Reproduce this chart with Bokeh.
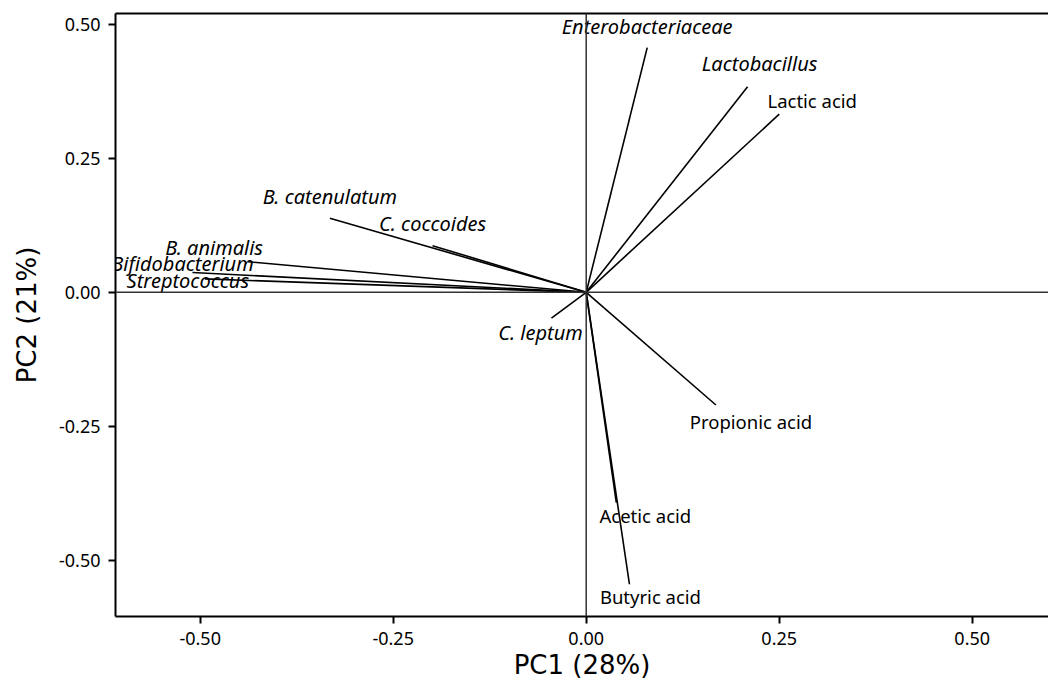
from bokeh.plotting import figure
from bokeh.models import ColumnDataSource, Span, LinearAxis, FixedTicker, NumeralTickFormatter, Range1d
from bokeh.core.properties import value
from bokeh.embed import file_html
from bokeh.resources import INLINE

# ---- data ----
variables = ["Enterobacteriaceae", "Lactobacillus", "Lactic acid", "B. catenulatum",
             "C. coccoides", "B. animalis", "Bifidobacterium", "Streptococcus",
             "C. leptum", "Propionic acid", "Acetic acid", "Butyric acid"]
pc1 = [0.079, 0.209, 0.250, -0.332, -0.199, -0.438, -0.510, -0.494,
       -0.045, 0.168, 0.039, 0.056]
pc2 = [0.456, 0.383, 0.332, 0.138, 0.087, 0.057, 0.037, 0.025,
       -0.048, -0.210, -0.392, -0.544]
is_taxon = [True, True, False, True, True, True, True, True,
            True, False, False, False]
tick_values = [-0.50, -0.25, 0.00, 0.25, 0.50]
x_title = "PC1 (28%)"
y_title = "PC2 (21%)"

# ---- style: label placement offsets (screen px) ----
label_dx = [0, 12, 33, 0, 0, -34, -10, -17, -11, 35, 29, 21]
label_dy = [-21, -23, -14, -22, -22, -14, -9, 2, 14, 16, 13, 12]

FONT = "Noto Sans"
TITLE_FONT = "DejaVu Sans"

src = ColumnDataSource(dict(
    x=pc1, y=pc2, name=variables, dx=label_dx, dy=label_dy,
    style=["italic" if t else "normal" for t in is_taxon],
    size=["20px" if t else "18.5px" for t in is_taxon],
))

p = figure(width=1048, height=684, output_backend="svg", toolbar_location=None,
           x_range=Range1d(-0.6097, 0.5988), y_range=Range1d(-0.6041, 0.5196),
           min_border_left=115, min_border_right=0, min_border_top=13, min_border_bottom=68,
           x_axis_location=None, y_axis_location=None)
p.grid.visible = False
p.outline_line_color = None
p.background_fill_color = "white"
p.border_fill_color = "white"

def style_axis(ax, title):
    ax.ticker = FixedTicker(ticks=tick_values)
    ax.formatter = NumeralTickFormatter(format="0.00")
    ax.axis_line_color = "black"
    ax.axis_line_width = 2
    ax.major_tick_line_color = "black"
    ax.major_tick_line_width = 2
    ax.major_tick_out = 7
    ax.major_tick_in = 0
    ax.minor_tick_line_color = None
    ax.major_label_text_font = FONT
    ax.major_label_text_font_size = "18px"
    ax.major_label_text_color = "black"
    ax.major_label_standoff = 8
    ax.axis_label = title
    ax.axis_label_text_font = TITLE_FONT
    ax.axis_label_text_font_size = "26px"
    ax.axis_label_text_font_style = "normal"
    ax.axis_label_text_color = "black"

xa = LinearAxis()
style_axis(xa, x_title)
xa.axis_label_standoff = 2
p.add_layout(xa, "below")

ya = LinearAxis()
style_axis(ya, y_title)
ya.axis_label_standoff = 14
p.add_layout(ya, "left")

top = LinearAxis(ticker=FixedTicker(ticks=[]), axis_line_width=2, axis_line_color="black",
                 major_tick_line_color=None, minor_tick_line_color=None,
                 major_label_text_font_size="0px")
p.add_layout(top, "above")

p.add_layout(Span(location=0, dimension="width", line_color="#333333", line_width=1.5))
p.add_layout(Span(location=0, dimension="height", line_color="#333333", line_width=1.5))

p.segment(x0=0, y0=0, x1="x", y1="y", source=src, line_color="black", line_width=1.6)

p.text(x="x", y="y", text="name", source=src, x_offset="dx", y_offset="dy",
       text_align="center", text_baseline="middle", text_font=value(FONT),
       text_font_size="size", text_font_style="style", text_color="black")

open("out.html", "w").write(file_html(p, INLINE))
